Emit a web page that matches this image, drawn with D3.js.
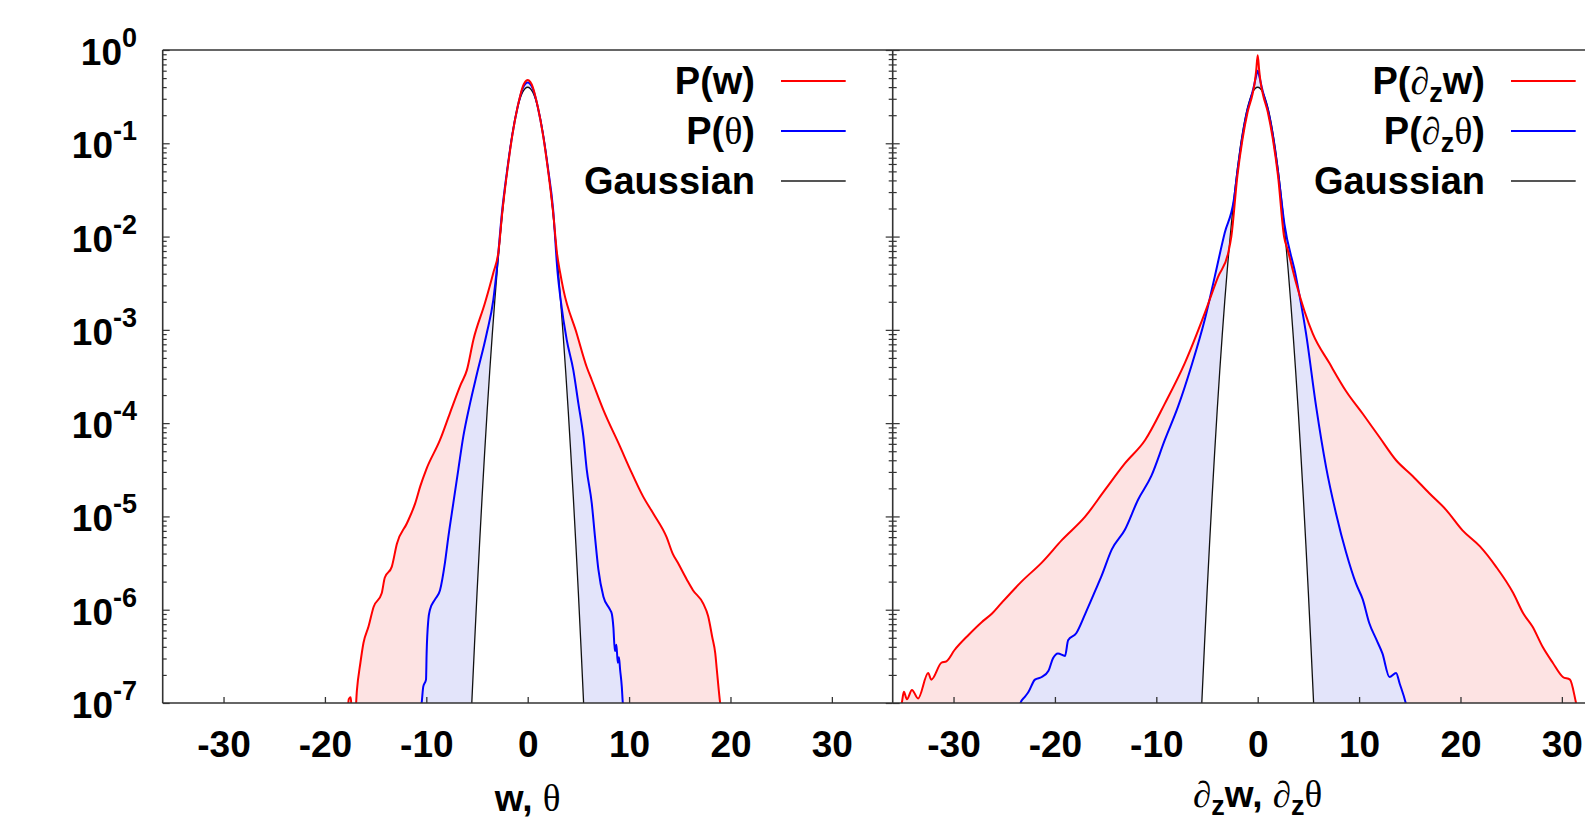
<!DOCTYPE html>
<html><head><meta charset="utf-8">
<script src="https://cdn.jsdelivr.net/npm/d3@7/dist/d3.min.js"></script>
<style>body{margin:0;background:#fff;overflow:hidden}svg{display:block}</style>
</head><body>
<script>
// ---------- data (x, probability density) ----------
const xTicks = [-30, -20, -10, 0, 10, 20, 30];
const yTicks = [1, 1e-1, 1e-2, 1e-3, 1e-4, 1e-5, 1e-6, 1e-7];
const yTickExponents = ["0", "-1", "-2", "-3", "-4", "-5", "-6", "-7"];

// standard Gaussian, tabulated
const gaussian = [[-5.75,2.66e-8],[-5.5,1.08e-7],[-5.25,4.13e-7],[-5.0,1.49e-6],[-4.75,5.03e-6],[-4.5,1.60e-5],[-4.25,4.77e-5],[-4.0,1.34e-4],[-3.75,3.53e-4],[-3.5,8.73e-4],[-3.25,2.03e-3],[-3.0,4.43e-3],[-2.75,9.09e-3],[-2.5,0.0175],[-2.25,0.0317],[-2.0,0.0540],[-1.75,0.0863],[-1.5,0.1295],[-1.25,0.1826],[-1.0,0.2420],[-0.75,0.3011],[-0.5,0.3521],[-0.25,0.3867],[0,0.3989],[0.25,0.3867],[0.5,0.3521],[0.75,0.3011],[1.0,0.2420],[1.25,0.1826],[1.5,0.1295],[1.75,0.0863],[2.0,0.0540],[2.25,0.0317],[2.5,0.0175],[2.75,9.09e-3],[3.0,4.43e-3],[3.25,2.03e-3],[3.5,8.73e-4],[3.75,3.53e-4],[4.0,1.34e-4],[4.25,4.77e-5],[4.5,1.60e-5],[4.75,5.03e-6],[5.0,1.49e-6],[5.25,4.13e-7],[5.5,1.08e-7],[5.75,2.66e-8]];

// P(w)
const pW = [[-17.75,8e-8],[-17.65,1.1e-7],[-17.45,1.15e-7],[-17.35,8e-8],[-17.0,8e-8],[-16.85,1.35e-7],[-16.5,2.7e-7],[-16.2,4.4e-7],[-15.7,6.6e-7],[-15.2,1.07e-6],[-14.4,1.5e-6],[-14.1,2.2e-6],[-13.4,2.9e-6],[-12.9,5.1e-6],[-11.9,8.5e-6],[-11.1,1.38e-5],[-10.6,2.1e-5],[-10.0,3.2e-5],[-8.65,6.6e-5],[-7.66,1.29e-4],[-6.6,2.6e-4],[-6.0,3.7e-4],[-5.36,7.8e-4],[-4.21,1.95e-3],[-3.39,4.1e-3],[-2.89,6.8e-3],[-2.5,0.0185],[-2.0,0.052],[-1.5,0.125],[-1.0,0.245],[-0.75,0.32],[-0.5,0.40],[-0.25,0.455],[0,0.478],[0.25,0.455],[0.5,0.40],[0.75,0.32],[1.0,0.245],[1.5,0.125],[2.0,0.052],[2.5,0.0185],[2.9,6.5e-3],[3.2,4.1e-3],[3.52,2.7e-3],[4.84,9.1e-4],[5.82,4.0e-4],[6.32,2.9e-4],[7.47,1.38e-4],[9.11,5.6e-5],[10.1,3.2e-5],[11.4,1.62e-5],[12.4,1.07e-5],[13.7,6.0e-6],[14.3,4.0e-6],[14.8,3.2e-6],[15.7,2.1e-6],[16.3,1.62e-6],[17.3,1.17e-6],[17.8,8.5e-7],[18.2,5.1e-7],[18.5,3.4e-7],[18.65,2.3e-7],[18.98,1.0e-7],[19.1,8e-8]];

// P(theta)
const pTheta = [[-10.6,8e-8],[-10.46,1.0e-7],[-10.3,1.5e-7],[-10.03,1.78e-7],[-9.97,3.4e-7],[-9.8,7.8e-7],[-9.64,1.0e-6],[-9.14,1.29e-6],[-8.65,1.62e-6],[-8.16,3.2e-6],[-7.83,6.0e-6],[-7.34,1.38e-5],[-6.84,3.2e-5],[-6.35,7.2e-5],[-5.69,1.62e-4],[-5.03,3.3e-4],[-4.05,9.1e-4],[-3.39,2.1e-3],[-3.08,4.1e-3],[-2.5,0.020],[-2.0,0.054],[-1.5,0.127],[-1.0,0.243],[-0.75,0.315],[-0.5,0.385],[-0.25,0.43],[0,0.447],[0.25,0.43],[0.5,0.385],[0.75,0.315],[1.0,0.243],[1.5,0.127],[2.0,0.054],[2.5,0.020],[2.95,4.1e-3],[3.25,2.1e-3],[3.85,7.8e-4],[4.5,3.7e-4],[5.0,1.62e-4],[5.49,7.2e-5],[5.82,3.2e-5],[6.32,1.38e-5],[6.64,6.0e-6],[6.97,2.7e-6],[7.47,1.38e-6],[8.12,1.0e-6],[8.3,9e-7],[8.45,6.5e-7],[8.6,3.6e-7],[8.75,4.2e-7],[8.88,2.7e-7],[9.0,3.1e-7],[9.11,2.3e-7],[9.28,1.5e-7],[9.38,1.0e-7],[9.5,8e-8]];

// P(dz w)
const pDzW = [[-35.3,8e-8],[-35.1,1.0e-7],[-34.9,1.32e-7],[-34.6,1.1e-7],[-34.1,1.38e-7],[-33.5,1.12e-7],[-32.5,2.1e-7],[-32.2,1.78e-7],[-31.2,2.7e-7],[-30.7,2.8e-7],[-29.9,3.7e-7],[-28.5,5.4e-7],[-27.2,7.4e-7],[-26.2,9.1e-7],[-25.3,1.17e-6],[-23.3,2.0e-6],[-21.3,3.2e-6],[-19.3,5.6e-6],[-17.0,1.0e-5],[-15.1,1.9e-5],[-13.1,3.7e-5],[-11.1,6.6e-5],[-9.16,1.62e-4],[-7.19,4.4e-4],[-5.22,1.51e-3],[-3.91,3.7e-3],[-2.92,6.6e-3],[-2.6,0.010],[-2.0,0.045],[-1.5,0.11],[-1.0,0.215],[-0.5,0.34],[-0.3,0.44],[-0.15,0.6],[0,0.88],[0.15,0.6],[0.3,0.44],[0.5,0.34],[1.0,0.215],[1.5,0.11],[2.0,0.045],[2.6,0.010],[2.96,7.2e-3],[3.78,3.2e-3],[5.43,9.1e-4],[7.07,4.4e-4],[8.72,2.2e-4],[10.36,1.26e-4],[12.0,7.1e-5],[13.65,4.0e-5],[15.3,2.7e-5],[16.9,1.78e-5],[18.6,1.17e-5],[20.2,7.1e-6],[21.9,4.8e-6],[23.5,2.9e-6],[25.2,1.51e-6],[26.2,9.1e-7],[27.1,6.6e-7],[28.1,4.0e-7],[29.1,2.7e-7],[30.1,1.9e-7],[30.8,1.78e-7],[31.4,1.0e-7],[31.6,8e-8]];

// P(dz theta)
const pDzTheta = [[-23.6,8e-8],[-23.4,1.0e-7],[-22.95,1.17e-7],[-22.6,1.32e-7],[-21.97,1.78e-7],[-21.3,1.9e-7],[-20.65,2.2e-7],[-20.2,3.0e-7],[-19.7,3.4e-7],[-19.0,3.2e-7],[-18.7,4.7e-7],[-17.9,5.6e-7],[-17.0,9.1e-7],[-16.0,1.62e-6],[-15.4,2.3e-6],[-14.4,4.4e-6],[-13.1,7.2e-6],[-11.8,1.51e-5],[-10.5,2.7e-5],[-9.16,6.6e-5],[-7.85,1.51e-4],[-6.54,4.1e-4],[-5.22,1.29e-3],[-4.24,3.7e-3],[-3.25,0.011],[-2.36,0.0245],[-2.0,0.05],[-1.5,0.12],[-1.0,0.23],[-0.7,0.30],[-0.4,0.40],[-0.2,0.5],[0,0.60],[0.2,0.5],[0.4,0.40],[0.7,0.30],[1.0,0.23],[1.5,0.12],[2.0,0.05],[2.63,0.0138],[3.78,3.7e-3],[4.77,9.1e-4],[5.76,1.51e-4],[6.74,3.4e-5],[7.73,1.07e-5],[8.72,4.1e-6],[9.70,1.9e-6],[10.36,1.29e-6],[11.0,7.2e-7],[11.7,4.8e-7],[12.3,3.4e-7],[13.0,1.9e-7],[13.65,2.1e-7],[14.0,1.62e-7],[14.6,1.0e-7],[14.8,8e-8]];

// ---------- layout ----------
const W = 1585, H = 827;
const plotTop = 50, plotBottom = 703;
const panelW = 730;
const left1 = 162.7, left2 = 892.7;
const FONT = "'Liberation Sans', Arial, Helvetica, sans-serif";
const SYM = "'Liberation Serif', 'Times New Roman', serif";
const FS = 37, FSleg = 38, FSsub = 27;

const svg = d3.select("body").append("svg").attr("width", W).attr("height", H);

const yScale = d3.scaleLog().domain([1e-7, 1]).range([plotBottom, plotTop]);

const panels = [
  {x0: left1, red: pW, blue: pTheta, deriv: false},
  {x0: left2, red: pDzW, blue: pDzTheta, deriv: true}
];

panels.forEach((p, i) => {
  const x = d3.scaleLinear().domain([-36, 36]).range([p.x0, p.x0 + panelW]);
  const clipId = "clip" + i;
  svg.append("clipPath").attr("id", clipId).append("rect")
    .attr("x", p.x0).attr("y", plotTop).attr("width", panelW).attr("height", plotBottom - plotTop);
  const g = svg.append("g").attr("clip-path", `url(#${clipId})`);

  const area = d3.area().x(d => x(d[0])).y0(plotBottom).y1(d => yScale(d[1])).curve(d3.curveMonotoneX);
  const line = d3.line().x(d => x(d[0])).y(d => yScale(d[1])).curve(d3.curveMonotoneX);

  g.append("path").datum(p.red).attr("d", area).attr("fill", "#fde3e3");
  g.append("path").datum(p.blue).attr("d", area).attr("fill", "#e3e4fa");
  g.append("path").datum(gaussian).attr("d", area).attr("fill", "#ffffff");

  g.append("path").datum(gaussian).attr("d", line).attr("fill", "none").attr("stroke", "#111").attr("stroke-width", 1.3);
  g.append("path").datum(p.blue).attr("d", line).attr("fill", "none").attr("stroke", "#0000ff").attr("stroke-width", 2);
  g.append("path").datum(p.red).attr("d", line).attr("fill", "none").attr("stroke", "#ff0000").attr("stroke-width", 2);

  // x axis ticks (inward) and labels
  const xAxis = d3.axisBottom(x).tickValues(xTicks).tickSizeInner(-6).tickSizeOuter(0).tickPadding(28)
    .tickFormat(d => String(d));
  const ga = svg.append("g").attr("transform", `translate(0,${plotBottom})`).call(xAxis);
  ga.select(".domain").remove();
  ga.selectAll(".tick line").attr("stroke", "#333").attr("stroke-width", 1.3);
  ga.selectAll(".tick text").attr("font-family", FONT).attr("font-weight", "bold")
    .attr("font-size", FS).attr("fill", "#000");

  // x-axis title
  const tx = x(0);
  const title = svg.append("text").attr("x", tx).attr("y", p.deriv ? 807 : 811)
    .attr("text-anchor", "middle").attr("font-family", FONT).attr("font-size", FS).attr("font-weight", "bold");
  if (!p.deriv) {
    title.append("tspan").text("w, ");
    title.append("tspan").attr("font-family", SYM).attr("font-weight", "normal").text("θ");
  } else {
    title.append("tspan").attr("font-family", SYM).attr("font-weight", "normal").text("∂");
    title.append("tspan").attr("font-size", FSsub).attr("dy", 8).text("z");
    title.append("tspan").attr("dy", -8).text("w, ");
    title.append("tspan").attr("font-family", SYM).attr("font-weight", "normal").text("∂");
    title.append("tspan").attr("font-size", FSsub).attr("dy", 8).text("z");
    title.append("tspan").attr("dy", -8).attr("font-family", SYM).attr("font-weight", "normal").text("θ");
  }

  // legend
  const lgTextX = p.x0 + panelW - 137.7;
  const lgL0 = p.x0 + panelW - 111.7, lgL1 = p.x0 + panelW - 47;
  const rows = [{c: "#ff0000", w: 2}, {c: "#0000ff", w: 2}, {c: "#555", w: 2}];
  rows.forEach((r, k) => {
    const ry = 81 + 50 * k;
    svg.append("line").attr("x1", lgL0).attr("x2", lgL1).attr("y1", ry).attr("y2", ry)
      .attr("stroke", r.c).attr("stroke-width", r.w);
    const t = svg.append("text").attr("x", lgTextX).attr("y", ry + 13).attr("text-anchor", "end")
      .attr("font-family", FONT).attr("font-size", FSleg).attr("font-weight", "bold");
    if (k === 2) { t.text("Gaussian"); return; }
    t.append("tspan").text("P(");
    if (p.deriv) {
      t.append("tspan").attr("font-family", SYM).attr("font-weight", "normal").text("∂");
      t.append("tspan").attr("font-size", FSsub).attr("dy", 8).text("z");
      if (k === 0) t.append("tspan").attr("dy", -8).text("w");
      else t.append("tspan").attr("dy", -8).attr("font-family", SYM).attr("font-weight", "normal").text("θ");
    } else {
      if (k === 0) t.append("tspan").text("w");
      else t.append("tspan").attr("font-family", SYM).attr("font-weight", "normal").text("θ");
    }
    t.append("tspan").text(")");
  });
});

// ---------- y axis ticks ----------
const minorTicks = [];
for (let e = -7; e < 0; e++) for (let m = 2; m <= 9; m++) minorTicks.push(m * Math.pow(10, e));

function yTicksAt(xPos, dir) {
  const mk = (vals, len) => {
    const ax = (dir > 0 ? d3.axisLeft(yScale) : d3.axisRight(yScale)).tickValues(vals).tickSizeInner(-len).tickSizeOuter(0).tickFormat("");
    const g = svg.append("g").attr("transform", `translate(${xPos},0)`).call(ax);
    g.select(".domain").remove();
    g.selectAll(".tick line").attr("stroke", "#333").attr("stroke-width", 1.2);
  };
  mk(yTicks, 7);
  mk(minorTicks, 4);
}
yTicksAt(left1, 1);
yTicksAt(left2, -1);
yTicksAt(left2, 1);

// y tick labels
yTicks.forEach((v, i) => {
  const t = svg.append("text").attr("x", 137).attr("y", yScale(v) + 15).attr("text-anchor", "end")
    .attr("font-family", FONT).attr("font-size", FS).attr("font-weight", "bold");
  t.append("tspan").text("10");
  t.append("tspan").attr("font-size", FSsub).attr("dy", -18).text(yTickExponents[i]);
});

// ---------- borders ----------
const bc = "#333", bw = 1.6;
svg.append("line").attr("x1", left1).attr("x2", W).attr("y1", plotTop).attr("y2", plotTop).attr("stroke", bc).attr("stroke-width", bw);
svg.append("line").attr("x1", left1).attr("x2", W).attr("y1", plotBottom).attr("y2", plotBottom).attr("stroke", bc).attr("stroke-width", bw);
svg.append("line").attr("x1", left1).attr("x2", left1).attr("y1", plotTop).attr("y2", plotBottom).attr("stroke", bc).attr("stroke-width", bw);
svg.append("line").attr("x1", left2).attr("x2", left2).attr("y1", plotTop).attr("y2", plotBottom).attr("stroke", bc).attr("stroke-width", bw);
</script>
</body></html>
